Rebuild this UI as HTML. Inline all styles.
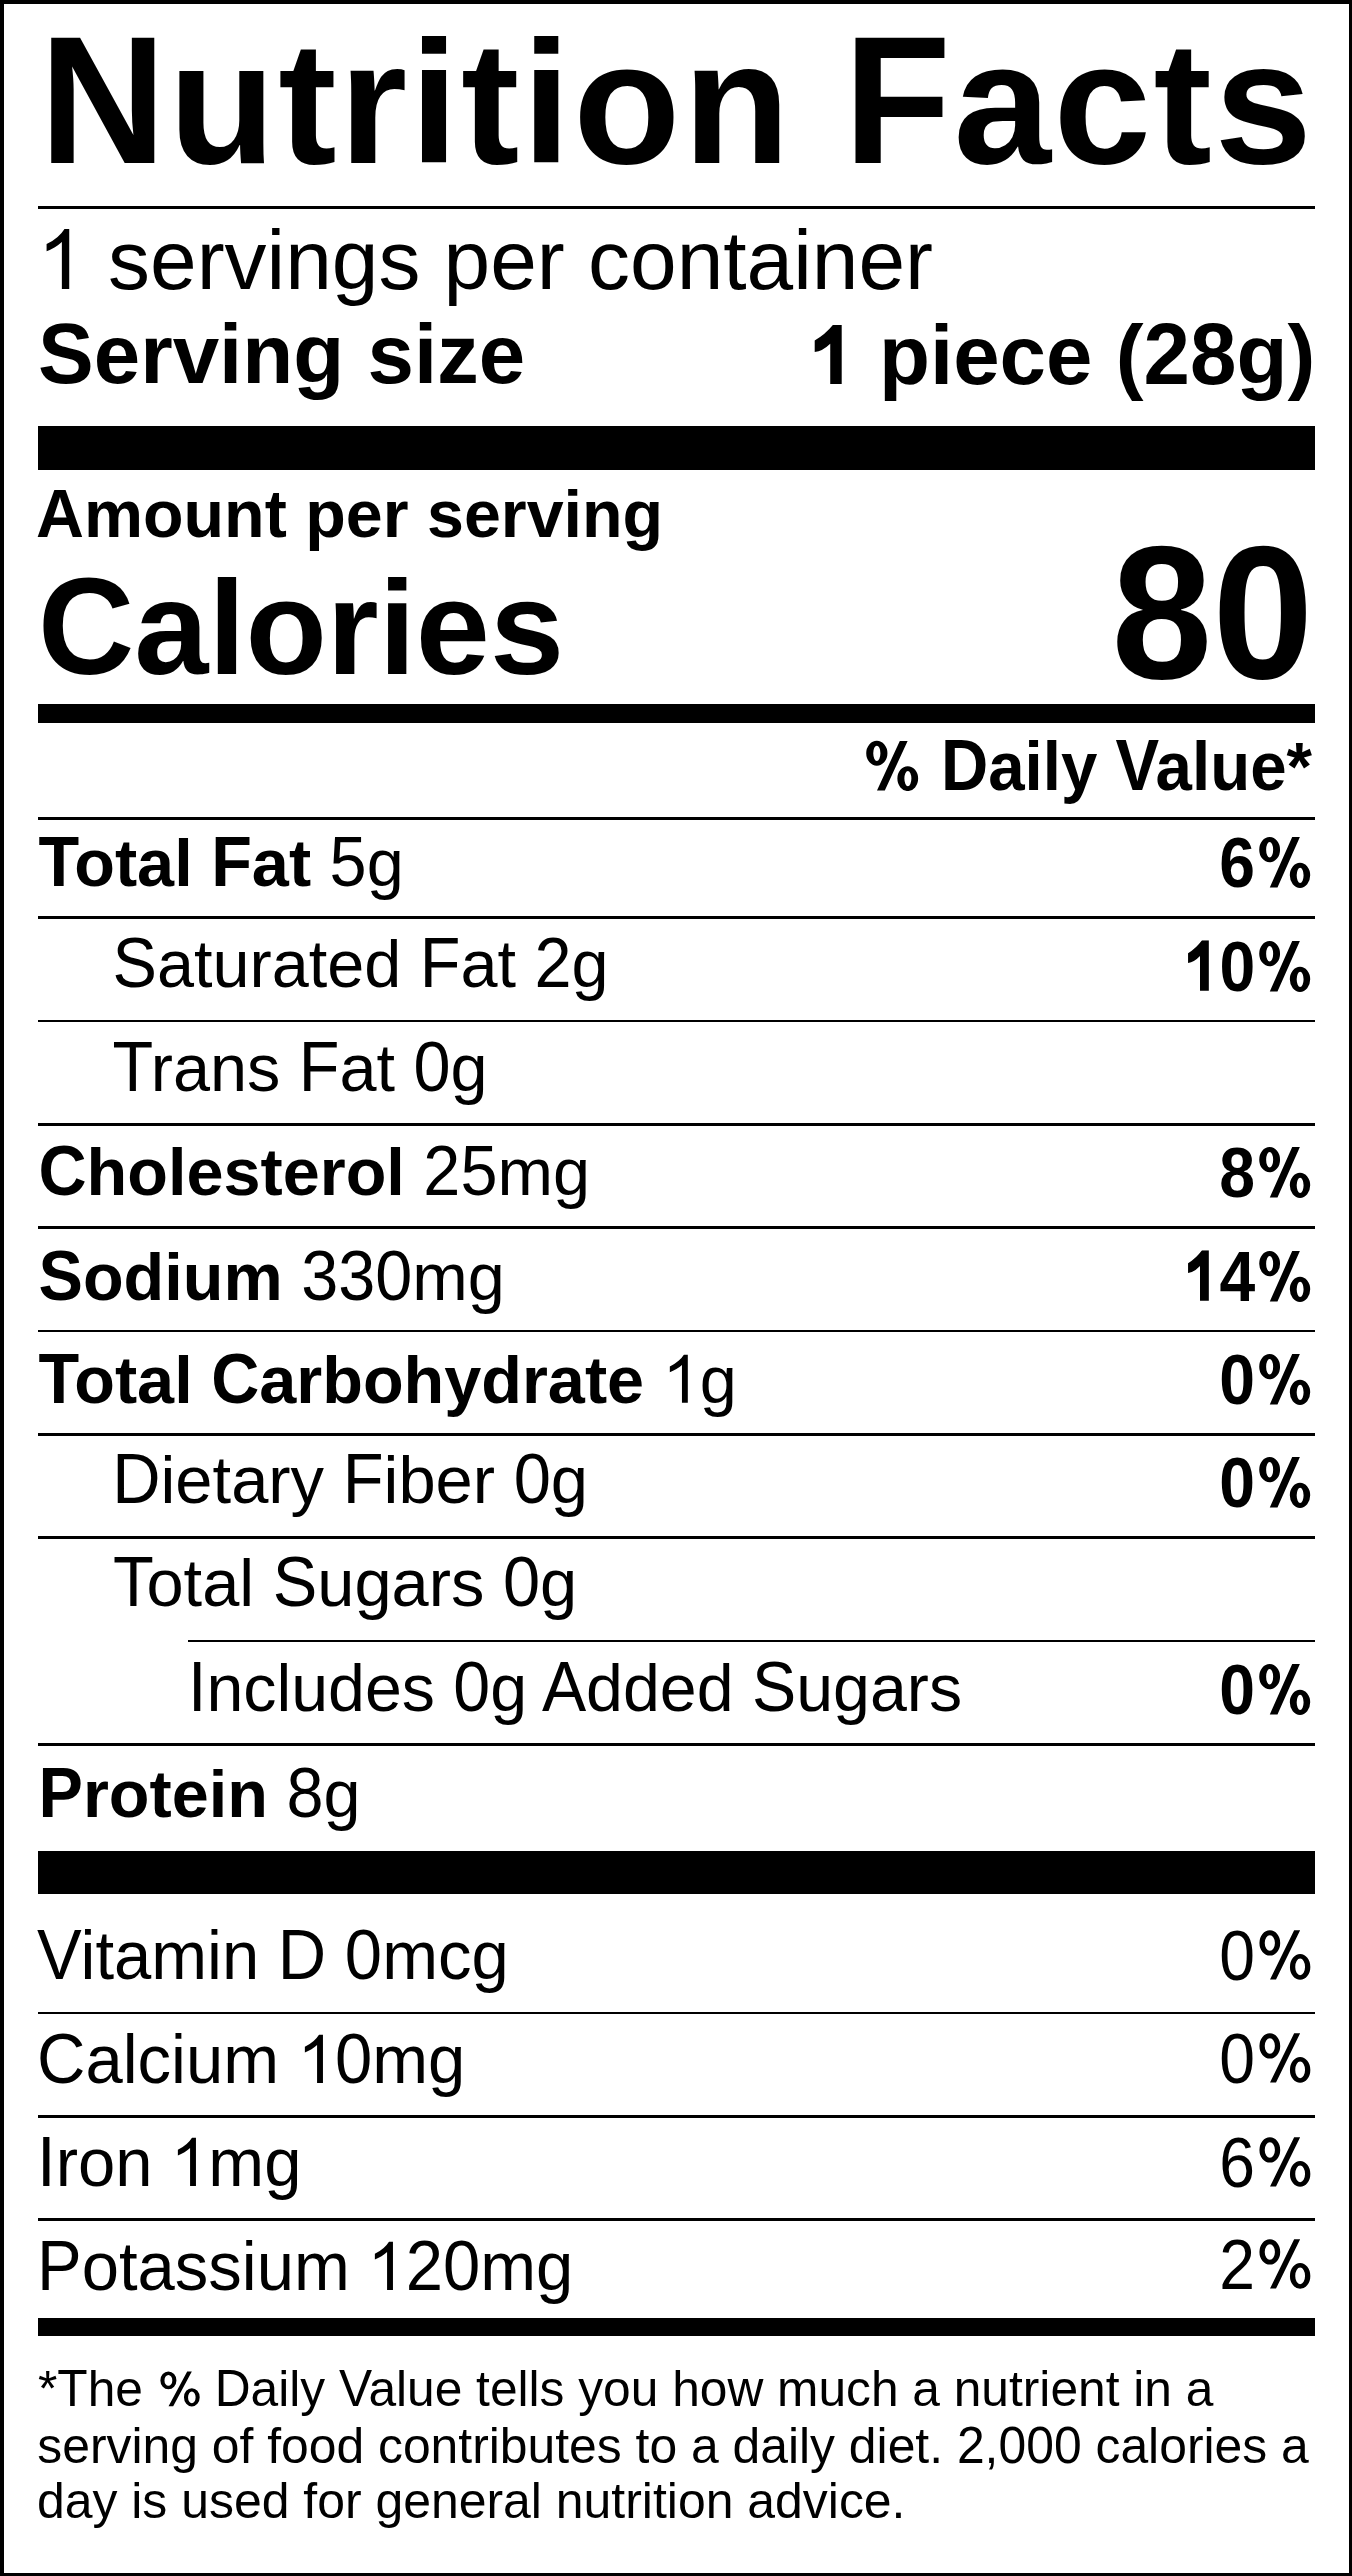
<!DOCTYPE html>
<html><head><meta charset="utf-8"><style>
html,body{margin:0;padding:0;background:#fff;}
body{width:1352px;height:2576px;position:relative;overflow:hidden;font-family:"Liberation Sans",sans-serif;color:#000;}
.t{position:absolute;white-space:nowrap;}
.r{position:absolute;background:#000;}
b{font-weight:bold;}
</style></head><body>
<div class="r" style="left:0px;top:0px;width:1352px;height:4px"></div>
<div class="r" style="left:0px;top:0px;width:4px;height:2576px"></div>
<div class="r" style="left:1349px;top:0px;width:3px;height:2576px"></div>
<div class="r" style="left:0px;top:2573px;width:1352px;height:3px"></div>
<div class="t" style="left:39.40px;top:15.17px;font-size:175.30px;line-height:175.30px;font-weight:bold;letter-spacing:2.55px;"><span style='display:inline-block;transform:scaleY(1.04);transform-origin:0 148.43px'>N</span>utrition <span style='display:inline-block;transform:scaleY(1.04);transform-origin:0 148.43px'>F</span>acts</div>
<div class="r" style="left:38px;top:206px;width:1277px;height:3px"></div>
<div class="t" style="left:38.20px;top:219.00px;font-size:83.85px;line-height:83.85px;font-weight:normal;"><svg viewBox="0 0 1139 1466" style="width:0.5562em;height:0.7158em;vertical-align:baseline"><path d="M763,1466 L583,1466 L583,319 Q518,381 412.5,443 Q307,505 210,541 L210,367 Q363,295 478,193.5 Q593,92 647,0 L763,0 Z"/></svg> servings per container</div>
<div class="t" style="left:38.00px;top:313.30px;font-size:83.50px;line-height:83.50px;font-weight:bold;"><span style="display:inline-block;transform:scaleY(1.02);transform-origin:0 70.70px">S</span>erving size</div>
<div class="t" style="right:36.80px;top:314.30px;font-size:83.50px;line-height:83.50px;font-weight:bold;"><svg viewBox="0 0 1139 1466" style="width:0.5562em;height:0.7158em;vertical-align:baseline"><path d="M802,1466 L521,1466 L521,457 Q330,640 140,664 L140,378 Q400,230 585,0 L802,0 Z"/></svg> piece (<span style="display:inline-block;transform:scaleY(1.04);transform-origin:0 70.70px">2</span><span style="display:inline-block;transform:scaleY(1.04);transform-origin:0 70.70px">8</span>g)</div>
<div class="r" style="left:38px;top:426px;width:1277px;height:44px"></div>
<div class="t" style="left:36.00px;top:480.78px;font-size:66.40px;line-height:66.40px;font-weight:bold;"><span style="display:inline-block;transform:scaleY(1.045);transform-origin:0 56.22px">A</span>mount per serving</div>
<div class="t" style="left:38.00px;top:560.83px;font-size:133.30px;line-height:133.30px;font-weight:bold;"><span style="display:inline-block;transform:scaleY(1.03);transform-origin:0 112.87px">C</span>alories</div>
<div class="t" style="right:38.80px;top:524.54px;font-size:181.25px;line-height:181.25px;font-weight:bold;transform:scale(1.0000,1.0460);transform-origin:100% 153.46px;">80</div>
<div class="r" style="left:38px;top:704px;width:1277px;height:19px"></div>
<div class="t" style="right:40.00px;top:735.09px;font-size:65.44px;line-height:65.44px;font-weight:bold;transform:scale(1.0000,1.0600);transform-origin:100% 55.41px;"><svg viewBox="0 0 1821 1526" style="width:0.8892em;height:0.7451em;vertical-align:-0.01465em"><path fill-rule="evenodd" d="M132.0,419.0 A332.0,368.0 0 1,0 796.0,419.0 A332.0,368.0 0 1,0 132.0,419.0 ZM352.0,419.0 A112.0,226.0 0 1,0 576.0,419.0 A112.0,226.0 0 1,0 352.0,419.0 ZM1107.0,1167.0 A325.0,367.0 0 1,0 1757.0,1167.0 A325.0,367.0 0 1,0 1107.0,1167.0 ZM1326.0,1167.0 A110.0,224.0 0 1,0 1546.0,1167.0 A110.0,224.0 0 1,0 1326.0,1167.0 ZM469.0,1519.0 L714.0,1519.0 L1428.0,53.0 L1183.0,53.0 Z"/></svg><span style="display:inline-block;width:2.5px"></span> <span style="display:inline-block;transform:scaleY(1.035);transform-origin:0 55.41px">D</span>aily <span style="display:inline-block;transform:scaleY(1.035);transform-origin:0 55.41px;margin-right:-3.61px">V</span>alue*</div>
<div class="r" style="left:38px;top:817px;width:1277px;height:3px"></div>
<div class="r" style="left:38px;top:916px;width:1277px;height:3px"></div>
<div class="r" style="left:38px;top:1020px;width:1277px;height:2px"></div>
<div class="r" style="left:38px;top:1123px;width:1277px;height:3px"></div>
<div class="r" style="left:38px;top:1226px;width:1277px;height:3px"></div>
<div class="r" style="left:38px;top:1330px;width:1277px;height:2px"></div>
<div class="r" style="left:38px;top:1433px;width:1277px;height:3px"></div>
<div class="r" style="left:38px;top:1536px;width:1277px;height:3px"></div>
<div class="r" style="left:188px;top:1640px;width:1127px;height:2px"></div>
<div class="r" style="left:38px;top:1743px;width:1277px;height:3px"></div>
<div class="t" style="left:38.50px;top:829.61px;font-size:66.60px;line-height:66.60px;font-weight:normal;transform:scale(1.0000,1.0100);transform-origin:0 56.39px;"><b><span style="display:inline-block;transform:scaleY(1.037);transform-origin:0 56.39px;margin-right:-4.94px">T</span>otal <span style="display:inline-block;transform:scaleY(1.037);transform-origin:0 56.39px">F</span>at</b> <span style="display:inline-block;transform:scaleY(1.037);transform-origin:0 56.39px">5</span>g</div>
<div class="t" style="right:39.80px;top:831.01px;font-size:66.60px;line-height:66.60px;font-weight:bold;transform:scale(0.9650,1.0550);transform-origin:100% 56.39px;">6<svg viewBox="0 0 1821 1526" style="width:0.8892em;height:0.7451em;vertical-align:-0.01465em"><path fill-rule="evenodd" d="M132.0,419.0 A332.0,368.0 0 1,0 796.0,419.0 A332.0,368.0 0 1,0 132.0,419.0 ZM352.0,419.0 A112.0,226.0 0 1,0 576.0,419.0 A112.0,226.0 0 1,0 352.0,419.0 ZM1107.0,1167.0 A325.0,367.0 0 1,0 1757.0,1167.0 A325.0,367.0 0 1,0 1107.0,1167.0 ZM1326.0,1167.0 A110.0,224.0 0 1,0 1546.0,1167.0 A110.0,224.0 0 1,0 1326.0,1167.0 ZM469.0,1519.0 L714.0,1519.0 L1428.0,53.0 L1183.0,53.0 Z"/></svg></div>
<div class="t" style="left:112.50px;top:930.61px;font-size:66.60px;line-height:66.60px;font-weight:normal;transform:scale(1.0000,1.0100);transform-origin:0 56.39px;"><span style="display:inline-block;transform:scaleY(1.037);transform-origin:0 56.39px">S</span>aturated <span style="display:inline-block;transform:scaleY(1.037);transform-origin:0 56.39px">F</span>at <span style="display:inline-block;transform:scaleY(1.037);transform-origin:0 56.39px">2</span>g</div>
<div class="t" style="right:39.80px;top:935.21px;font-size:66.60px;line-height:66.60px;font-weight:bold;transform:scale(0.9650,1.0550);transform-origin:100% 56.39px;"><svg viewBox="0 0 1139 1466" style="width:0.5562em;height:0.7158em;vertical-align:baseline"><path d="M802,1466 L521,1466 L521,457 Q330,640 140,664 L140,378 Q400,230 585,0 L802,0 Z"/></svg>0<svg viewBox="0 0 1821 1526" style="width:0.8892em;height:0.7451em;vertical-align:-0.01465em"><path fill-rule="evenodd" d="M132.0,419.0 A332.0,368.0 0 1,0 796.0,419.0 A332.0,368.0 0 1,0 132.0,419.0 ZM352.0,419.0 A112.0,226.0 0 1,0 576.0,419.0 A112.0,226.0 0 1,0 352.0,419.0 ZM1107.0,1167.0 A325.0,367.0 0 1,0 1757.0,1167.0 A325.0,367.0 0 1,0 1107.0,1167.0 ZM1326.0,1167.0 A110.0,224.0 0 1,0 1546.0,1167.0 A110.0,224.0 0 1,0 1326.0,1167.0 ZM469.0,1519.0 L714.0,1519.0 L1428.0,53.0 L1183.0,53.0 Z"/></svg></div>
<div class="t" style="left:112.50px;top:1034.61px;font-size:66.60px;line-height:66.60px;font-weight:normal;transform:scale(1.0000,1.0100);transform-origin:0 56.39px;"><span style="display:inline-block;transform:scaleY(1.037);transform-origin:0 56.39px;margin-right:-2.47px">T</span>rans <span style="display:inline-block;transform:scaleY(1.037);transform-origin:0 56.39px">F</span>at <span style="display:inline-block;transform:scaleY(1.037);transform-origin:0 56.39px">0</span>g</div>
<div class="t" style="left:38.50px;top:1139.41px;font-size:66.60px;line-height:66.60px;font-weight:normal;transform:scale(1.0000,1.0100);transform-origin:0 56.39px;"><b><span style="display:inline-block;transform:scaleY(1.037);transform-origin:0 56.39px">C</span>holesterol</b> <span style="display:inline-block;transform:scaleY(1.037);transform-origin:0 56.39px">2</span><span style="display:inline-block;transform:scaleY(1.037);transform-origin:0 56.39px">5</span>mg</div>
<div class="t" style="right:39.80px;top:1140.81px;font-size:66.60px;line-height:66.60px;font-weight:bold;transform:scale(0.9650,1.0550);transform-origin:100% 56.39px;">8<svg viewBox="0 0 1821 1526" style="width:0.8892em;height:0.7451em;vertical-align:-0.01465em"><path fill-rule="evenodd" d="M132.0,419.0 A332.0,368.0 0 1,0 796.0,419.0 A332.0,368.0 0 1,0 132.0,419.0 ZM352.0,419.0 A112.0,226.0 0 1,0 576.0,419.0 A112.0,226.0 0 1,0 352.0,419.0 ZM1107.0,1167.0 A325.0,367.0 0 1,0 1757.0,1167.0 A325.0,367.0 0 1,0 1107.0,1167.0 ZM1326.0,1167.0 A110.0,224.0 0 1,0 1546.0,1167.0 A110.0,224.0 0 1,0 1326.0,1167.0 ZM469.0,1519.0 L714.0,1519.0 L1428.0,53.0 L1183.0,53.0 Z"/></svg></div>
<div class="t" style="left:38.50px;top:1243.61px;font-size:66.60px;line-height:66.60px;font-weight:normal;transform:scale(1.0000,1.0100);transform-origin:0 56.39px;"><b><span style="display:inline-block;transform:scaleY(1.037);transform-origin:0 56.39px">S</span>odium</b> <span style="display:inline-block;transform:scaleY(1.037);transform-origin:0 56.39px">3</span><span style="display:inline-block;transform:scaleY(1.037);transform-origin:0 56.39px">3</span><span style="display:inline-block;transform:scaleY(1.037);transform-origin:0 56.39px">0</span>mg</div>
<div class="t" style="right:39.80px;top:1244.71px;font-size:66.60px;line-height:66.60px;font-weight:bold;transform:scale(0.9650,1.0550);transform-origin:100% 56.39px;"><svg viewBox="0 0 1139 1466" style="width:0.5562em;height:0.7158em;vertical-align:baseline"><path d="M802,1466 L521,1466 L521,457 Q330,640 140,664 L140,378 Q400,230 585,0 L802,0 Z"/></svg>4<svg viewBox="0 0 1821 1526" style="width:0.8892em;height:0.7451em;vertical-align:-0.01465em"><path fill-rule="evenodd" d="M132.0,419.0 A332.0,368.0 0 1,0 796.0,419.0 A332.0,368.0 0 1,0 132.0,419.0 ZM352.0,419.0 A112.0,226.0 0 1,0 576.0,419.0 A112.0,226.0 0 1,0 352.0,419.0 ZM1107.0,1167.0 A325.0,367.0 0 1,0 1757.0,1167.0 A325.0,367.0 0 1,0 1107.0,1167.0 ZM1326.0,1167.0 A110.0,224.0 0 1,0 1546.0,1167.0 A110.0,224.0 0 1,0 1326.0,1167.0 ZM469.0,1519.0 L714.0,1519.0 L1428.0,53.0 L1183.0,53.0 Z"/></svg></div>
<div class="t" style="left:38.50px;top:1346.61px;font-size:66.60px;line-height:66.60px;font-weight:normal;transform:scale(1.0000,1.0100);transform-origin:0 56.39px;"><b><span style="display:inline-block;transform:scaleY(1.037);transform-origin:0 56.39px;margin-right:-4.94px">T</span>otal <span style="display:inline-block;transform:scaleY(1.037);transform-origin:0 56.39px">C</span>arbohydrate</b> <svg viewBox="0 0 1139 1466" style="width:0.5562em;height:0.7158em;vertical-align:baseline"><path d="M763,1466 L583,1466 L583,319 Q518,381 412.5,443 Q307,505 210,541 L210,367 Q363,295 478,193.5 Q593,92 647,0 L763,0 Z"/></svg>g</div>
<div class="t" style="right:39.80px;top:1348.21px;font-size:66.60px;line-height:66.60px;font-weight:bold;transform:scale(0.9650,1.0550);transform-origin:100% 56.39px;">0<svg viewBox="0 0 1821 1526" style="width:0.8892em;height:0.7451em;vertical-align:-0.01465em"><path fill-rule="evenodd" d="M132.0,419.0 A332.0,368.0 0 1,0 796.0,419.0 A332.0,368.0 0 1,0 132.0,419.0 ZM352.0,419.0 A112.0,226.0 0 1,0 576.0,419.0 A112.0,226.0 0 1,0 352.0,419.0 ZM1107.0,1167.0 A325.0,367.0 0 1,0 1757.0,1167.0 A325.0,367.0 0 1,0 1107.0,1167.0 ZM1326.0,1167.0 A110.0,224.0 0 1,0 1546.0,1167.0 A110.0,224.0 0 1,0 1326.0,1167.0 ZM469.0,1519.0 L714.0,1519.0 L1428.0,53.0 L1183.0,53.0 Z"/></svg></div>
<div class="t" style="left:112.20px;top:1447.36px;font-size:66.90px;line-height:66.90px;font-weight:normal;transform:scale(1.0000,1.0100);transform-origin:0 56.64px;"><span style="display:inline-block;transform:scaleY(1.037);transform-origin:0 56.64px">D</span>ietary <span style="display:inline-block;transform:scaleY(1.037);transform-origin:0 56.64px">F</span>iber <span style="display:inline-block;transform:scaleY(1.037);transform-origin:0 56.64px">0</span>g</div>
<div class="t" style="right:39.80px;top:1451.11px;font-size:66.60px;line-height:66.60px;font-weight:bold;transform:scale(0.9650,1.0550);transform-origin:100% 56.39px;">0<svg viewBox="0 0 1821 1526" style="width:0.8892em;height:0.7451em;vertical-align:-0.01465em"><path fill-rule="evenodd" d="M132.0,419.0 A332.0,368.0 0 1,0 796.0,419.0 A332.0,368.0 0 1,0 132.0,419.0 ZM352.0,419.0 A112.0,226.0 0 1,0 576.0,419.0 A112.0,226.0 0 1,0 352.0,419.0 ZM1107.0,1167.0 A325.0,367.0 0 1,0 1757.0,1167.0 A325.0,367.0 0 1,0 1107.0,1167.0 ZM1326.0,1167.0 A110.0,224.0 0 1,0 1546.0,1167.0 A110.0,224.0 0 1,0 1326.0,1167.0 ZM469.0,1519.0 L714.0,1519.0 L1428.0,53.0 L1183.0,53.0 Z"/></svg></div>
<div class="t" style="left:113.00px;top:1550.44px;font-size:66.80px;line-height:66.80px;font-weight:normal;transform:scale(1.0000,1.0100);transform-origin:0 56.56px;"><span style="display:inline-block;transform:scaleY(1.037);transform-origin:0 56.56px;margin-right:-7.40px">T</span>otal <span style="display:inline-block;transform:scaleY(1.037);transform-origin:0 56.56px">S</span>ugars <span style="display:inline-block;transform:scaleY(1.037);transform-origin:0 56.56px">0</span>g</div>
<div class="t" style="left:188.00px;top:1654.86px;font-size:66.30px;line-height:66.30px;font-weight:normal;transform:scale(1.0000,1.0100);transform-origin:0 56.14px;"><span style="display:inline-block;transform:scaleY(1.037);transform-origin:0 56.14px">I</span>ncludes <span style="display:inline-block;transform:scaleY(1.037);transform-origin:0 56.14px">0</span>g <span style="display:inline-block;transform:scaleY(1.037);transform-origin:0 56.14px;margin-left:-3.66px">A</span>dded <span style="display:inline-block;transform:scaleY(1.037);transform-origin:0 56.14px">S</span>ugars</div>
<div class="t" style="right:39.80px;top:1657.71px;font-size:66.60px;line-height:66.60px;font-weight:bold;transform:scale(0.9650,1.0550);transform-origin:100% 56.39px;">0<svg viewBox="0 0 1821 1526" style="width:0.8892em;height:0.7451em;vertical-align:-0.01465em"><path fill-rule="evenodd" d="M132.0,419.0 A332.0,368.0 0 1,0 796.0,419.0 A332.0,368.0 0 1,0 132.0,419.0 ZM352.0,419.0 A112.0,226.0 0 1,0 576.0,419.0 A112.0,226.0 0 1,0 352.0,419.0 ZM1107.0,1167.0 A325.0,367.0 0 1,0 1757.0,1167.0 A325.0,367.0 0 1,0 1107.0,1167.0 ZM1326.0,1167.0 A110.0,224.0 0 1,0 1546.0,1167.0 A110.0,224.0 0 1,0 1326.0,1167.0 ZM469.0,1519.0 L714.0,1519.0 L1428.0,53.0 L1183.0,53.0 Z"/></svg></div>
<div class="t" style="left:38.50px;top:1760.61px;font-size:66.60px;line-height:66.60px;font-weight:normal;transform:scale(1.0000,1.0100);transform-origin:0 56.39px;"><b><span style="display:inline-block;transform:scaleY(1.037);transform-origin:0 56.39px">P</span>rotein</b> <span style="display:inline-block;transform:scaleY(1.037);transform-origin:0 56.39px">8</span>g</div>
<div class="r" style="left:38px;top:1851px;width:1277px;height:43px"></div>
<div class="t" style="left:37.00px;top:1922.27px;font-size:67.00px;line-height:67.00px;font-weight:normal;transform:scale(1.0000,1.0100);transform-origin:0 56.73px;"><span style="display:inline-block;transform:scaleY(1.04);transform-origin:0 56.73px;margin-right:-1.21px">V</span>itamin <span style="display:inline-block;transform:scaleY(1.04);transform-origin:0 56.73px">D</span> <span style="display:inline-block;transform:scaleY(1.04);transform-origin:0 56.73px">0</span>mcg</div>
<div class="t" style="right:40.00px;top:1924.01px;font-size:66.60px;line-height:66.60px;font-weight:normal;transform:scale(0.9650,1.0550);transform-origin:100% 56.39px;">0<svg viewBox="0 0 1821 1526" style="width:0.8892em;height:0.7451em;vertical-align:-0.01465em"><path fill-rule="evenodd" d="M139.0,428.0 A331.0,368.0 0 1,0 801.0,428.0 A331.0,368.0 0 1,0 139.0,428.0 ZM308.0,428.0 A162.0,226.0 0 1,0 632.0,428.0 A162.0,226.0 0 1,0 308.0,428.0 ZM1111.0,1126.0 A325.0,378.0 0 1,0 1761.0,1126.0 A325.0,378.0 0 1,0 1111.0,1126.0 ZM1280.0,1126.0 A156.0,242.0 0 1,0 1592.0,1126.0 A156.0,242.0 0 1,0 1280.0,1126.0 ZM476.0,1496.0 L667.0,1496.0 L1436.0,60.0 L1245.0,60.0 Z"/></svg></div>
<div class="t" style="left:37.00px;top:2026.27px;font-size:67.00px;line-height:67.00px;font-weight:normal;transform:scale(1.0000,1.0100);transform-origin:0 56.73px;"><span style="display:inline-block;transform:scaleY(1.04);transform-origin:0 56.73px">C</span>alcium <svg viewBox="0 0 1139 1466" style="width:0.5562em;height:0.7158em;vertical-align:baseline"><path d="M763,1466 L583,1466 L583,319 Q518,381 412.5,443 Q307,505 210,541 L210,367 Q363,295 478,193.5 Q593,92 647,0 L763,0 Z"/></svg><span style="display:inline-block;transform:scaleY(1.04);transform-origin:0 56.73px">0</span>mg</div>
<div class="t" style="right:40.00px;top:2027.21px;font-size:66.60px;line-height:66.60px;font-weight:normal;transform:scale(0.9650,1.0550);transform-origin:100% 56.39px;">0<svg viewBox="0 0 1821 1526" style="width:0.8892em;height:0.7451em;vertical-align:-0.01465em"><path fill-rule="evenodd" d="M139.0,428.0 A331.0,368.0 0 1,0 801.0,428.0 A331.0,368.0 0 1,0 139.0,428.0 ZM308.0,428.0 A162.0,226.0 0 1,0 632.0,428.0 A162.0,226.0 0 1,0 308.0,428.0 ZM1111.0,1126.0 A325.0,378.0 0 1,0 1761.0,1126.0 A325.0,378.0 0 1,0 1111.0,1126.0 ZM1280.0,1126.0 A156.0,242.0 0 1,0 1592.0,1126.0 A156.0,242.0 0 1,0 1280.0,1126.0 ZM476.0,1496.0 L667.0,1496.0 L1436.0,60.0 L1245.0,60.0 Z"/></svg></div>
<div class="t" style="left:37.00px;top:2128.87px;font-size:67.00px;line-height:67.00px;font-weight:normal;transform:scale(1.0000,1.0100);transform-origin:0 56.73px;"><span style="display:inline-block;transform:scaleY(1.04);transform-origin:0 56.73px">I</span>ron <svg viewBox="0 0 1139 1466" style="width:0.5562em;height:0.7158em;vertical-align:baseline"><path d="M763,1466 L583,1466 L583,319 Q518,381 412.5,443 Q307,505 210,541 L210,367 Q363,295 478,193.5 Q593,92 647,0 L763,0 Z"/></svg>mg</div>
<div class="t" style="right:40.00px;top:2130.51px;font-size:66.60px;line-height:66.60px;font-weight:normal;transform:scale(0.9650,1.0550);transform-origin:100% 56.39px;">6<svg viewBox="0 0 1821 1526" style="width:0.8892em;height:0.7451em;vertical-align:-0.01465em"><path fill-rule="evenodd" d="M139.0,428.0 A331.0,368.0 0 1,0 801.0,428.0 A331.0,368.0 0 1,0 139.0,428.0 ZM308.0,428.0 A162.0,226.0 0 1,0 632.0,428.0 A162.0,226.0 0 1,0 308.0,428.0 ZM1111.0,1126.0 A325.0,378.0 0 1,0 1761.0,1126.0 A325.0,378.0 0 1,0 1111.0,1126.0 ZM1280.0,1126.0 A156.0,242.0 0 1,0 1592.0,1126.0 A156.0,242.0 0 1,0 1280.0,1126.0 ZM476.0,1496.0 L667.0,1496.0 L1436.0,60.0 L1245.0,60.0 Z"/></svg></div>
<div class="t" style="left:37.00px;top:2232.77px;font-size:67.00px;line-height:67.00px;font-weight:normal;transform:scale(1.0000,1.0100);transform-origin:0 56.73px;"><span style="display:inline-block;transform:scaleY(1.04);transform-origin:0 56.73px">P</span>otassium <svg viewBox="0 0 1139 1466" style="width:0.5562em;height:0.7158em;vertical-align:baseline"><path d="M763,1466 L583,1466 L583,319 Q518,381 412.5,443 Q307,505 210,541 L210,367 Q363,295 478,193.5 Q593,92 647,0 L763,0 Z"/></svg><span style="display:inline-block;transform:scaleY(1.04);transform-origin:0 56.73px">2</span><span style="display:inline-block;transform:scaleY(1.04);transform-origin:0 56.73px">0</span>mg</div>
<div class="t" style="right:40.00px;top:2233.41px;font-size:66.60px;line-height:66.60px;font-weight:normal;transform:scale(0.9650,1.0550);transform-origin:100% 56.39px;">2<svg viewBox="0 0 1821 1526" style="width:0.8892em;height:0.7451em;vertical-align:-0.01465em"><path fill-rule="evenodd" d="M139.0,428.0 A331.0,368.0 0 1,0 801.0,428.0 A331.0,368.0 0 1,0 139.0,428.0 ZM308.0,428.0 A162.0,226.0 0 1,0 632.0,428.0 A162.0,226.0 0 1,0 308.0,428.0 ZM1111.0,1126.0 A325.0,378.0 0 1,0 1761.0,1126.0 A325.0,378.0 0 1,0 1111.0,1126.0 ZM1280.0,1126.0 A156.0,242.0 0 1,0 1592.0,1126.0 A156.0,242.0 0 1,0 1280.0,1126.0 ZM476.0,1496.0 L667.0,1496.0 L1436.0,60.0 L1245.0,60.0 Z"/></svg></div>
<div class="r" style="left:38px;top:2012px;width:1277px;height:2px"></div>
<div class="r" style="left:38px;top:2115px;width:1277px;height:3px"></div>
<div class="r" style="left:38px;top:2218px;width:1277px;height:3px"></div>
<div class="r" style="left:38px;top:2318px;width:1277px;height:18px"></div>
<div class="t" style="left:38.00px;top:2364.94px;font-size:49.68px;line-height:49.68px;font-weight:normal;">*<span style="display:inline-block;transform:scaleY(1.045);transform-origin:0 42.06px">T</span>he <svg viewBox="0 0 1821 1526" style="width:0.8892em;height:0.7451em;vertical-align:-0.01465em"><path fill-rule="evenodd" d="M139.0,428.0 A331.0,368.0 0 1,0 801.0,428.0 A331.0,368.0 0 1,0 139.0,428.0 ZM308.0,428.0 A162.0,226.0 0 1,0 632.0,428.0 A162.0,226.0 0 1,0 308.0,428.0 ZM1111.0,1126.0 A325.0,378.0 0 1,0 1761.0,1126.0 A325.0,378.0 0 1,0 1111.0,1126.0 ZM1280.0,1126.0 A156.0,242.0 0 1,0 1592.0,1126.0 A156.0,242.0 0 1,0 1280.0,1126.0 ZM476.0,1496.0 L667.0,1496.0 L1436.0,60.0 L1245.0,60.0 Z"/></svg> <span style="display:inline-block;transform:scaleY(1.045);transform-origin:0 42.06px">D</span>aily <span style="display:inline-block;transform:scaleY(1.045);transform-origin:0 42.06px;margin-right:-3.69px">V</span>alue tells you how much a nutrient in a</div>
<div class="t" style="left:37.30px;top:2422.31px;font-size:49.83px;line-height:49.83px;font-weight:normal;">serving of food contributes to a daily diet. <span style="display:inline-block;transform:scaleY(1.045);transform-origin:0 42.19px">2</span>,<span style="display:inline-block;transform:scaleY(1.045);transform-origin:0 42.19px">0</span><span style="display:inline-block;transform:scaleY(1.045);transform-origin:0 42.19px">0</span><span style="display:inline-block;transform:scaleY(1.045);transform-origin:0 42.19px">0</span> calories a</div>
<div class="t" style="left:36.90px;top:2477.22px;font-size:49.93px;line-height:49.93px;font-weight:normal;">day is used for general nutrition advice.</div>
</body></html>
